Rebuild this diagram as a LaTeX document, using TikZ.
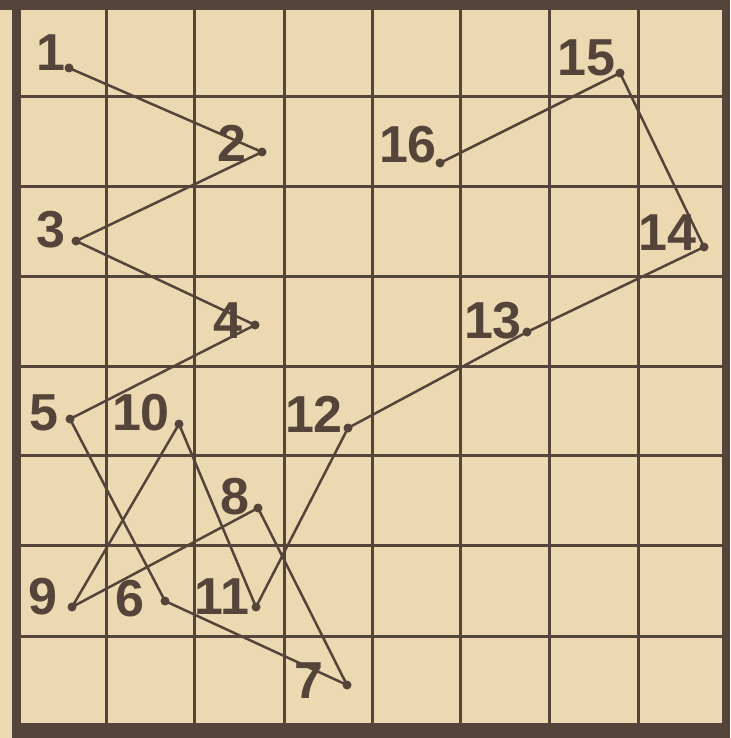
\documentclass[tikz,border=0pt]{standalone}
\usepackage{fontspec}
\setmainfont{Liberation Sans}
\definecolor{paper}{RGB}{236,217,178}
\definecolor{ink}{RGB}{84,68,57}
\tikzset{
  gridline/.style={draw=ink, line width=3pt},
  border/.style={fill=ink},
  pt/.style={circle, fill=ink, inner sep=0pt, minimum size=9pt},
  lab/.style={font=\fontsize{52}{52}\selectfont\bfseries, text=ink, inner sep=0pt},
  link/.style={draw=ink, line width=2.5pt, line join=round}
}
\begin{document}
\begin{tikzpicture}[x=1pt,y=-1pt]
\useasboundingbox (0,0) rectangle (730,738);
\fill[paper] (0,0) rectangle (730,738);
% grid
\foreach \x in {106,194,284,372,460,549,638}
  \draw[gridline] (\x,5) -- (\x,730);
\foreach \y in {97,186,276,366,455,545,636}
  \draw[gridline] (15,\y) -- (726,\y);
% borders
\fill[border] (0,0) rectangle (730,10);
\fill[border] (12,0) rectangle (21,738);
\fill[border] (12,723) rectangle (730,738);
\fill[border] (722,0) rectangle (730,738);
% points
\node[pt] (p1) at (69,68) {};
\node[pt] (p2) at (262,152) {};
\node[pt] (p3) at (76,241) {};
\node[pt] (p4) at (255,325) {};
\node[pt] (p5) at (70,419) {};
\node[pt] (p6) at (165,601) {};
\node[pt] (p7) at (347,685) {};
\node[pt] (p8) at (258,508) {};
\node[pt] (p9) at (72,607) {};
\node[pt] (p10) at (179,424) {};
\node[pt] (p11) at (256,607) {};
\node[pt] (p12) at (348,428) {};
\node[pt] (p13) at (527,332) {};
\node[pt] (p14) at (704,247) {};
\node[pt] (p15) at (620,73) {};
\node[pt] (p16) at (440,163) {};
% path
\draw[link] (p1.center) -- (p2.center) -- (p3.center) -- (p4.center) -- (p5.center)
  -- (p6.center) -- (p7.center) -- (p8.center) -- (p9.center) -- (p10.center)
  -- (p11.center) -- (p12.center) -- (p13.center) -- (p14.center) -- (p15.center)
  -- (p16.center);
% labels
\node[lab] (l1) at (51,53) {1};
\node[lab] (l2) at (232,143) {2};
\node[lab] (l3) at (51,230) {3};
\node[lab] (l4) at (228,321) {4};
\node[lab] (l5) at (44,413) {5};
\node[lab] (l6) at (130,599) {6};
\node[lab] (l7) at (309,681) {7};
\node[lab] (l8) at (235,497) {8};
\node[lab] (l9) at (43,597) {9};
\node[lab] (l10) at (141,413) {10};
\node[lab] (l11) at (222,597) {11};
\node[lab] (l12) at (314,414) {12};
\node[lab] (l13) at (493,321) {13};
\node[lab] (l14) at (667,233) {14};
\node[lab] (l15) at (586,58) {15};
\node[lab] (l16) at (408,145) {16};
\end{tikzpicture}
\end{document}
